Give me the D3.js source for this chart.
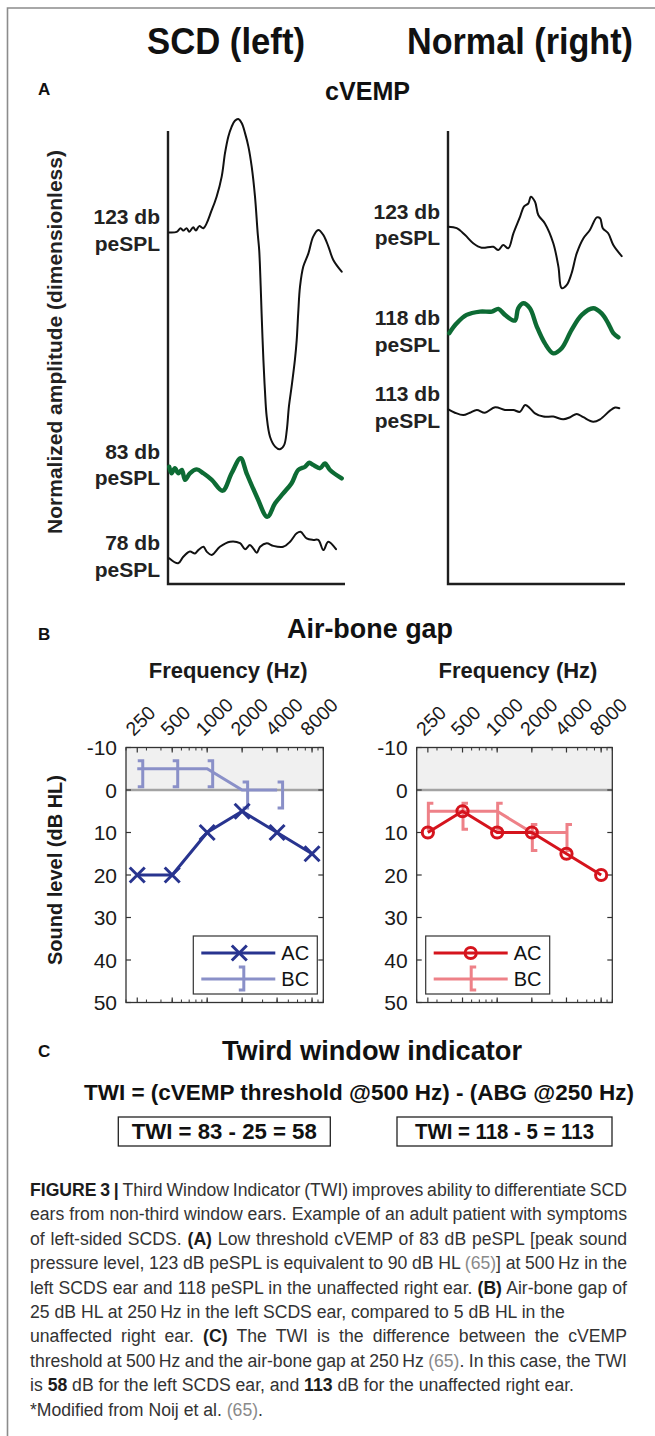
<!DOCTYPE html>
<html>
<head>
<meta charset="utf-8">
<script src="https://cdn.jsdelivr.net/npm/d3@7"></script>
<style>
  body { margin: 0; background: #fff; }
  text { font-family: "Liberation Sans", Arial, sans-serif; fill: #111; }
</style>
</head>
<body>
<svg id="fig" width="655" height="1436"></svg>
<script>
'use strict';

// ---- panel B data (audiogram) ----
var freqs = [250, 500, 1000, 2000, 4000, 8000];
var freqLabels = ["250", "500", "1000", "2000", "4000", "8000"];
var levelTicks = [-10, 0, 10, 20, 30, 40, 50];
var leftAC = [20, 20, 10, 5, 10, 15];
var leftBC = [-5, -5, -5, 0, 0];      // 250 .. 4000 Hz
var rightAC = [10, 5, 10, 10, 15, 20];
var rightBC = [5, 5, 5, 10, 10];

// ---- panel A data (cVEMP traces): [time ms, stacked amplitude] ----
var leftLevels = ["123 db", "83 db", "78 db"];
var rightLevels = ["123 db", "118 db", "113 db"];

var left123 = [[0.4,117.2],[2.9,117.4],[4.2,118.6],[5.1,117.8],[6.2,118.6],[7.1,117.4],[8.4,118.9],[9.3,117.8],
  [10.4,119.3],[11.8,118.6],[14.6,124.7],[16.2,129.1],[17.9,135.8],[19.0,143.6],[20.1,149.1],[21.2,152.4],
  [22.3,154.4],[23.4,155.0],[24.6,153.6],[25.7,150.2],[26.8,145.8],[27.9,139.1],[29.0,129.1],[29.9,116.9],
  [30.4,111.3],[30.9,99.1],[31.2,90.2],[31.8,74.7],[32.3,64.7],[32.9,55.8],[34.0,49.1],[35.7,45.8],
  [37.3,44.9],[38.7,46.3],[39.6,51.3],[40.3,59.1],[41.2,65.8],[42.3,74.7],[42.9,81.3],[43.4,90.2],
  [44.0,99.1],[45.1,105.8],[46.8,110.2],[48.4,115.8],[50.1,118.0],[51.8,116.3],[53.5,112.4],[55.1,108.0],
  [57.9,104.1]];
var left83 = [[0.4,39.1],[1.2,36.9],[2.3,38.6],[3.4,36.9],[4.6,38.0],[5.7,34.7],[7.3,36.9],[9.6,38.2],
  [11.8,36.9],[14.6,34.7],[18.2,31.1],[21.2,36.9],[24.2,41.9],[26.2,36.9],[29.6,29.1],[33.1,22.4],
  [35.7,26.9],[38.4,30.2],[41.2,33.6],[43.4,38.0],[45.7,39.1],[47.1,40.4],[48.4,39.7],[50.7,38.6],
  [52.3,40.2],[54.0,38.0],[57.9,35.2]];
var left78 = [[0.4,8.6],[3.4,6.9],[5.1,9.1],[7.3,10.8],[9.0,10.2],[10.1,11.3],[11.8,12.4],[12.9,10.8],
  [14.6,9.7],[17.3,12.4],[20.7,14.1],[24.0,13.6],[25.7,11.6],[27.3,13.0],[28.4,11.9],[29.6,10.4],
  [30.7,12.4],[32.9,13.6],[35.1,12.7],[38.4,12.4],[40.7,14.1],[42.9,16.9],[44.2,17.4],[46.2,15.2],
  [48.4,14.7],[50.1,14.7],[51.8,11.3],[53.4,14.1],[56.0,11.6]];
var right123 = [[0.1,119.1],[2.9,118.6],[5.7,116.3],[8.4,113.6],[11.2,112.1],[15.1,112.4],[16.8,111.3],
  [18.4,113.0],[20.1,111.9],[21.8,116.9],[24.0,122.4],[25.3,125.8],[26.8,126.9],[27.6,129.1],[29.0,127.4],
  [30.1,123.0],[32.3,120.2],[35.1,113.6],[36.8,105.8],[37.9,98.6],[39.6,99.7],[41.2,103.6],[42.9,110.2],
  [45.1,115.2],[47.3,118.0],[49.6,122.2],[50.7,121.9],[51.6,118.6],[53.4,116.9],[55.1,113.0],[57.9,109.3]];
var right118 = [[0.4,83.6],[2.9,86.9],[6.2,89.7],[10.7,90.8],[14.6,90.8],[16.8,91.7],[19.0,89.7],
  [22.3,87.8],[23.4,91.9],[25.1,93.6],[27.3,91.9],[29.6,85.8],[32.3,80.2],[35.1,76.9],[37.9,78.6],
  [41.2,84.7],[44.6,89.7],[48.4,91.9],[51.2,90.2],[53.4,86.9],[55.1,83.6],[56.8,82.2]];
var right113 = [[0.1,58.2],[2.3,57.1],[5.1,56.3],[7.3,57.1],[9.6,58.0],[12.3,57.1],[15.7,58.9],[19.0,58.0],
  [21.8,58.0],[24.0,57.4],[25.7,59.7],[27.3,58.6],[29.0,56.9],[31.8,55.8],[35.1,55.8],[38.4,54.9],
  [40.7,55.6],[42.9,56.7],[45.1,55.6],[48.4,54.1],[50.7,54.9],[54.0,57.8],[55.7,58.8],[57.1,58.6]];

var svg = d3.select('#fig');

// figure frame (left + top rule)
svg.append('path')
  .attr('d', 'M7.5,1436V8H655')
  .attr('fill', 'none')
  .attr('stroke', '#8c8c8c')
  .attr('stroke-width', 1.6);

// helper for headings, squeezed to the width seen in the picture
function heading(txt, x, y, size, w) {
  var t = svg.append('text')
    .attr('x', x).attr('y', y)
    .style('font-size', size + 'px')
    .style('font-weight', 'bold')
    .text(txt);
  if (w) t.attr('textLength', w).attr('lengthAdjust', 'spacingAndGlyphs');
  return t;
}

heading('SCD (left)', 147, 54, 36, 158);
heading('Normal (right)', 407, 54, 36, 226);
heading('A', 38, 95, 17);
heading('cVEMP', 325, 100, 25, 85);

// ---------------- panel A : cVEMP ----------------
var yAmp = d3.scaleLinear().domain([0, 151]).range([584, 131]);
var xLeft = d3.scaleLinear().domain([0, 59]).range([168, 345]);
var xRight = d3.scaleLinear().domain([0, 59]).range([448, 625]);

function cvempPanel(x, traces, levels) {
  var g = svg.append('g');
  g.append('path')
    .attr('d', 'M' + x(0) + ',' + yAmp(151) + 'V' + yAmp(0) + 'H' + x(59))
    .attr('fill', 'none')
    .attr('stroke', '#1e1e1e')
    .attr('stroke-width', 2.4);

  var line = d3.line()
    .x(function (d) { return x(d[0]); })
    .y(function (d) { return yAmp(d[1]); })
    .curve(d3.curveCatmullRom.alpha(0.5));

  traces.forEach(function (tr, i) {
    var green = (i === 1);
    g.append('path')
      .attr('d', line(tr))
      .attr('fill', 'none')
      .attr('stroke', green ? '#0d6b34' : '#111')
      .attr('stroke-width', green ? 4.4 : 2)
      .attr('stroke-linejoin', 'round')
      .attr('stroke-linecap', 'round');

    var y0 = yAmp(tr[0][1]);
    var lab = g.append('text')
      .attr('text-anchor', 'end')
      .style('font-size', '21px')
      .style('font-weight', 'bold')
      .style('fill', '#222');
    lab.append('tspan').attr('x', x(0) - 8).attr('y', y0 - 8).text(levels[i]);
    lab.append('tspan').attr('x', x(0) - 8).attr('y', y0 + 18.5).text('peSPL');
  });
}

cvempPanel(xLeft, [left123, left83, left78], leftLevels);
cvempPanel(xRight, [right123, right118, right113], rightLevels);

svg.append('text')
  .attr('transform', 'translate(62,342) rotate(-90)')
  .attr('text-anchor', 'middle')
  .style('font-size', '21px')
  .style('font-weight', 'bold')
  .style('fill', '#222')
  .text('Normalized amplitude (dimensionless)');

// ---------------- panel B : air-bone gap ----------------
heading('B', 38, 640, 17);
heading('Air-bone gap', 287, 638, 28, 166);

var yDb = d3.scaleLinear().domain([-10, 50]).range([747.5, 1002.5]);

function xMark(g, cx, cy, s, color) {
  g.append('path')
    .attr('d', 'M' + (cx - s) + ',' + (cy - s) + 'L' + (cx + s) + ',' + (cy + s) +
               'M' + (cx - s) + ',' + (cy + s) + 'L' + (cx + s) + ',' + (cy - s))
    .attr('stroke', color).attr('stroke-width', 3).attr('fill', 'none');
}
function oMark(g, cx, cy, color) {
  g.append('circle').attr('cx', cx).attr('cy', cy).attr('r', 5.6)
    .attr('fill', 'none').attr('stroke', color).attr('stroke-width', 3);
}
function bracket(g, cx, cy, side, top, bot, color) {
  var a = cx + 0.5, b = cx + 5.5;
  var d = side === ']'
    ? 'M' + a + ',' + (cy - top) + 'H' + b + 'V' + (cy + bot) + 'H' + a
    : 'M' + b + ',' + (cy - top) + 'H' + a + 'V' + (cy + bot) + 'H' + b;
  g.append('path').attr('d', d).attr('fill', 'none')
    .attr('stroke', color).attr('stroke-width', 3);
}

function audiogram(o) {
  var x = d3.scaleLog().domain([200, 10000]).range([o.x0, o.x1]);
  var g = svg.append('g');

  g.append('rect')
    .attr('x', o.x0).attr('y', yDb(-10))
    .attr('width', o.x1 - o.x0).attr('height', yDb(0) - yDb(-10))
    .attr('fill', '#f0f0f0');
  g.append('line')
    .attr('x1', o.x0).attr('x2', o.x1)
    .attr('y1', yDb(0)).attr('y2', yDb(0))
    .attr('stroke', '#a3a3a3').attr('stroke-width', 2.4);

  // ticks (inside, MATLAB style)
  var tickCol = '#333';
  x.ticks().forEach(function (f) {
    [[yDb(-10), 1], [yDb(50), -1]].forEach(function (e) {
      g.append('line').attr('x1', x(f)).attr('x2', x(f))
        .attr('y1', e[0]).attr('y2', e[0] + 3 * e[1])
        .attr('stroke', tickCol).attr('stroke-width', 1);
    });
  });
  freqs.forEach(function (f) {
    [[yDb(-10), 1], [yDb(50), -1]].forEach(function (e) {
      g.append('line').attr('x1', x(f)).attr('x2', x(f))
        .attr('y1', e[0]).attr('y2', e[0] + 5 * e[1])
        .attr('stroke', tickCol).attr('stroke-width', 1.2);
    });
  });
  levelTicks.forEach(function (v) {
    [[o.x0, 1], [o.x1, -1]].forEach(function (e) {
      g.append('line').attr('x1', e[0]).attr('x2', e[0] + 5 * e[1])
        .attr('y1', yDb(v)).attr('y2', yDb(v))
        .attr('stroke', tickCol).attr('stroke-width', 1.2);
    });
    g.append('text')
      .attr('x', o.x0 - 9).attr('y', yDb(v) + 7.5)
      .attr('text-anchor', 'end')
      .style('font-size', '21px')
      .style('fill', '#1a1a1a')
      .text(v);
  });

  g.append('rect')
    .attr('x', o.x0).attr('y', yDb(-10))
    .attr('width', o.x1 - o.x0).attr('height', yDb(50) - yDb(-10))
    .attr('fill', 'none').attr('stroke', '#333').attr('stroke-width', 1.3);

  freqs.forEach(function (f, i) {
    g.append('text')
      .attr('transform', 'translate(' + (x(f) - 3.5) + ',737) rotate(-45)')
      .style('font-size', '19.5px')
      .style('fill', '#1a1a1a')
      .text(freqLabels[i]);
  });

  g.append('text')
    .attr('x', (o.x0 + o.x1) / 2 + 3.5).attr('y', 678)
    .attr('text-anchor', 'middle')
    .style('font-size', '22px')
    .style('font-weight', 'bold')
    .style('fill', '#1a1a1a')
    .text('Frequency (Hz)');

  var line = d3.line()
    .x(function (d, i) { return x(freqs[i]); })
    .y(function (d) { return yDb(d); });

  // bone conduction
  g.append('path').attr('d', line(o.bc)).attr('fill', 'none')
    .attr('stroke', o.bcColor).attr('stroke-width', 3);
  o.bc.forEach(function (v, i) {
    bracket(g, x(freqs[i]), yDb(v), o.bcSym, 8, 18, o.bcColor);
  });
  // air conduction
  g.append('path').attr('d', line(o.ac)).attr('fill', 'none')
    .attr('stroke', o.acColor).attr('stroke-width', 3);
  o.ac.forEach(function (v, i) {
    if (o.acSym === 'x') xMark(g, x(freqs[i]), yDb(v), 7.5, o.acColor);
    else oMark(g, x(freqs[i]), yDb(v), o.acColor);
  });

  // legend
  var lx = o.legendX, ly = 936;
  g.append('rect').attr('x', lx).attr('y', ly).attr('width', 124).attr('height', 58)
    .attr('fill', '#fff').attr('stroke', '#333').attr('stroke-width', 1.2);
  var r1 = ly + 17, r2 = ly + 43;
  g.append('line').attr('x1', lx + 8).attr('x2', lx + 82).attr('y1', r1).attr('y2', r1)
    .attr('stroke', o.acColor).attr('stroke-width', 3);
  if (o.acSym === 'x') xMark(g, lx + 46, r1, 7.5, o.acColor);
  else oMark(g, lx + 45, r1, o.acColor);
  g.append('line').attr('x1', lx + 8).attr('x2', lx + 82).attr('y1', r2).attr('y2', r2)
    .attr('stroke', o.bcColor).attr('stroke-width', 3);
  bracket(g, lx + 45, r2, o.bcSym, 12, 11, o.bcColor);
  g.append('text').attr('x', lx + 88).attr('y', r1 + 7).style('font-size', '20px').text('AC');
  g.append('text').attr('x', lx + 88).attr('y', r2 + 7).style('font-size', '20px').text('BC');
}

audiogram({ x0: 126, x1: 323.3, ac: leftAC, bc: leftBC, acColor: '#28348f', bcColor: '#8a90c8',
            acSym: 'x', bcSym: ']', legendX: 193.3 });
audiogram({ x0: 416.7, x1: 612.3, ac: rightAC, bc: rightBC, acColor: '#d5141d', bcColor: '#ee8188',
            acSym: 'o', bcSym: '[', legendX: 425.7 });

svg.append('text')
  .attr('transform', 'translate(62,870) rotate(-90)')
  .attr('text-anchor', 'middle')
  .style('font-size', '20px')
  .style('font-weight', 'bold')
  .style('fill', '#1a1a1a')
  .text('Sound level (dB HL)');

// ---------------- panel C : TWI ----------------
heading('C', 38, 1057, 17);
heading('Twird window indicator', 222, 1060, 28, 300);
heading('TWI = (cVEMP threshold @500 Hz) - (ABG @250 Hz)', 84, 1100, 22, 550);

var twiBoxes = [
  { x: 118.3, w: 212, txt: 'TWI = 83 - 25 = 58', tw: 185 },
  { x: 397, w: 215, txt: 'TWI = 118 - 5 = 113', tw: 179 }
];
twiBoxes.forEach(function (b) {
  svg.append('rect').attr('x', b.x).attr('y', 1117).attr('width', b.w).attr('height', 29)
    .attr('fill', 'none').attr('stroke', '#222').attr('stroke-width', 1.3);
  heading(b.txt, b.x + (b.w - b.tw) / 2, 1139, 22, b.tw);
});

// ---------------- caption ----------------
var captionLines = [
  [['FIGURE 3 | ', 'b'], ['Third Window Indicator (TWI) improves ability to differentiate SCD', 'n']],
  [['ears from non-third window ears. Example of an adult patient with symptoms', 'n']],
  [['of left-sided SCDS. ', 'n'], ['(A)', 'b'], [' Low threshold cVEMP of 83 dB peSPL [peak sound', 'n']],
  [['pressure level, 123 dB peSPL is equivalent to 90 dB HL ', 'n'], ['(65)', 'g'], ['] at 500\u2009Hz in the', 'n']],
  [['left SCDS ear and 118 peSPL in the unaffected right ear. ', 'n'], ['(B)', 'b'], [' Air-bone gap of', 'n']],
  [['25 dB HL at 250\u2009Hz in the left SCDS ear, compared to 5 dB HL in the', 'n']],
  [['unaffected right ear. ', 'n'], ['(C)', 'b'], [' The TWI is the difference between the cVEMP', 'n']],
  [['threshold at 500\u2009Hz and the air-bone gap at 250\u2009Hz ', 'n'], ['(65)', 'g'], ['. In this case, the TWI', 'n']],
  [['is ', 'n'], ['58', 'b'], [' dB for the left SCDS ear, and ', 'n'], ['113', 'b'], [' dB for the unaffected right ear.', 'n']],
  [['*Modified from Noij et al. ', 'n'], ['(65)', 'g'], ['.', 'n']]
];
var justified = [true, true, true, true, true, false, true, true, false, false];

var capG = svg.append('g');
var capNodes = captionLines.map(function (segs) {
  var t = capG.append('text')
    .attr('x', 0).attr('y', 0)
    .style('font-family', '"Liberation Sans Narrow", "Liberation Sans", Arial, sans-serif')
    .style('font-size', '18px');
  segs.forEach(function (s) {
    t.append('tspan')
      .text(s[0])
      .style('font-weight', s[1] === 'b' ? 'bold' : 'normal')
      .style('fill', s[1] === 'g' ? '#8a8a8a' : (s[1] === 'b' ? '#1c1c1c' : '#333'));
  });
  return t;
});

// condense to the picture's narrow face (first line slightly tight), then justify full lines
var natFirst = capNodes[0].node().getComputedTextLength();
var sx = Math.max(0.7, Math.min(1.15, 610 / natFirst));
capNodes.forEach(function (t, i) {
  t.attr('transform', 'translate(30,' + (1196 + 24.4 * i) + ') scale(' + sx + ',1)');
  if (justified[i]) {
    var nat = t.node().getComputedTextLength();
    var spaces = (t.text().match(/ /g) || []).length;
    var ws = (597 / sx - nat) / spaces;
    t.style('word-spacing', ws + 'px');
  }
});
</script>
</body>
</html>
